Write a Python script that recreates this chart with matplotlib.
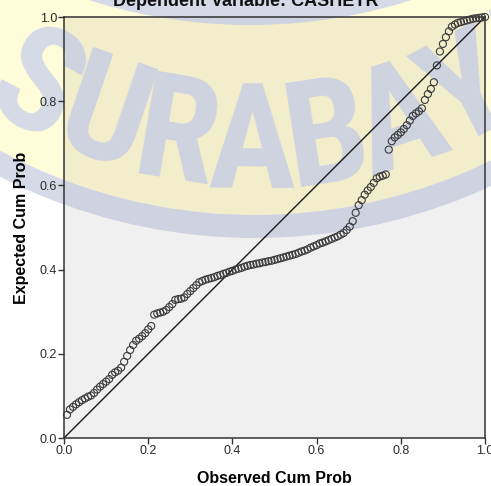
import numpy as np
import matplotlib
matplotlib.use("Agg")
import matplotlib.pyplot as plt
from matplotlib.patches import Circle, Wedge
from matplotlib import font_manager

# ---- data ----
expected_cum_prob = [
    0.055, 0.068, 0.074, 0.080, 0.085, 0.090, 0.094, 0.098, 0.101, 0.107,
    0.115, 0.122, 0.128, 0.134, 0.140, 0.150, 0.156, 0.160, 0.167, 0.181,
    0.195, 0.209, 0.221, 0.231, 0.236, 0.242, 0.249, 0.258, 0.266, 0.293,
    0.296, 0.298, 0.300, 0.304, 0.311, 0.318, 0.328, 0.330, 0.331, 0.334,
    0.342, 0.349, 0.356, 0.363, 0.370, 0.373, 0.376, 0.378, 0.380, 0.382,
    0.385, 0.387, 0.390, 0.392, 0.395, 0.397, 0.400, 0.402, 0.404, 0.407,
    0.409, 0.411, 0.412, 0.414, 0.415, 0.417, 0.418, 0.420, 0.421, 0.423,
    0.425, 0.427, 0.429, 0.431, 0.433, 0.435, 0.437, 0.440, 0.443, 0.445,
    0.448, 0.452, 0.455, 0.458, 0.462, 0.464, 0.467, 0.470, 0.473, 0.476,
    0.479, 0.483, 0.487, 0.494, 0.502, 0.515, 0.535, 0.553, 0.565, 0.578,
    0.588, 0.596, 0.606, 0.617, 0.621, 0.623, 0.626, 0.685, 0.705, 0.714,
    0.720, 0.726, 0.734, 0.743, 0.754, 0.765, 0.771, 0.776, 0.783, 0.803,
    0.817, 0.829, 0.845, 0.885, 0.918, 0.936, 0.952, 0.966, 0.977, 0.982,
    0.986, 0.988, 0.990, 0.992, 0.994, 0.996, 0.997, 0.998, 0.999, 1.000,
]
n_obs = len(expected_cum_prob)
observed_cum_prob = np.arange(1, n_obs + 1) / n_obs  # rank / n

title = "Dependent Variable: CASHETR"
x_label = "Observed Cum Prob"
y_label = "Expected Cum Prob"
ticks = [0.0, 0.2, 0.4, 0.6, 0.8, 1.0]
tick_labels = ["0.0", "0.2", "0.4", "0.6", "0.8", "1.0"]
watermark = "SURABAYA"

W, H = 491, 486
fig = plt.figure(figsize=(W / 100, H / 100), dpi=100)
fig.patch.set_facecolor("white")
plt.rcParams["font.family"] = ["Liberation Sans", "DejaVu Sans"]

# background overlay axes in pixel coordinates (y downward)
wax = fig.add_axes([0, 0, 1, 1], zorder=0)
wax.set_xlim(0, W)
wax.set_ylim(H, 0)
wax.axis("off")

ax = fig.add_axes([64 / W, 1 - 438 / H, 421 / W, 421 / H], zorder=1)
ax.set_facecolor("#F0F0F0")
ax.plot([0, 1], [0, 1], color="#1a1a1a", lw=1.0, zorder=2)
ax.scatter(observed_cum_prob, expected_cum_prob, s=26, facecolors="none",
           edgecolors="#3a3a3a", linewidths=0.8, zorder=3, clip_on=False)
ax.set_xlim(0, 1)
ax.set_ylim(0, 1)
ax.set_xticks(ticks)
ax.set_xticklabels(tick_labels)
ax.set_yticks(ticks)
ax.set_yticklabels(tick_labels)
ax.tick_params(direction="out", length=4, width=1, color="#333333",
               labelsize=9, labelcolor="#2a2a2a", pad=1)
for s in ax.spines.values():
    s.set_color("#333333")
    s.set_linewidth(1.1)
ax.set_xlabel(x_label, fontsize=11.5, fontweight="bold", labelpad=10)
ax.set_ylabel(y_label, fontsize=11.5, fontweight="bold", labelpad=8)

# ---- watermark (drawn outside and inside the plot area) ----
names = {f.name for f in font_manager.fontManager.ttflist}
wm_family, wm_size = None, 106
for cand in ["Roboto Condensed", "Liberation Sans Narrow",
             "Noto Sans Condensed", "DejaVu Sans Condensed",
             "Open Sans Condensed"]:
    if cand in names:
        wm_family = cand
        break
if wm_family is None:
    others = sorted(n for n in names if "Condensed" in n or "Narrow" in n)
    if others:
        wm_family = others[0]
    else:
        wm_family, wm_size = "DejaVu Sans", 80

cx, cy = 255, -323
tr = wax.transData


def draw_watermark(target, yellow, lav, zo, clip):
    target.add_patch(Circle((cx, cy), 538, facecolor=yellow, edgecolor="none",
                            transform=tr, zorder=zo))
    target.add_patch(Wedge((cx, cy), 561, 0, 360, width=23, facecolor=lav,
                           edgecolor="none", transform=tr, zorder=zo))
    target.add_patch(Circle((250, -510), 535, facecolor=lav,
                            edgecolor="none", transform=tr, zorder=zo))
    r_letters = 470
    for k, ch in enumerate(watermark):
        th = np.deg2rad(-28 + 9.2 * k)
        px = cx + r_letters * np.sin(th)
        py = cy + r_letters * np.cos(th)
        target.text(px, py, ch, ha="center", va="center",
                    rotation=np.rad2deg(th), rotation_mode="anchor",
                    fontsize=wm_size, fontweight="heavy", family=[wm_family],
                    color=lav, transform=tr, zorder=zo + 0.1, clip_on=clip)


draw_watermark(wax, "#FFFCDA", "#D6D9E7", 0.5, False)
draw_watermark(ax, "#F2EECB", "#CFD2E0", 1.0, True)

fig.text(0.5, 1 - 2 / H, title, ha="center", va="center", zorder=20,
         fontsize=13, fontweight="bold", color="#111111")

fig.savefig("out.png", dpi=100)
